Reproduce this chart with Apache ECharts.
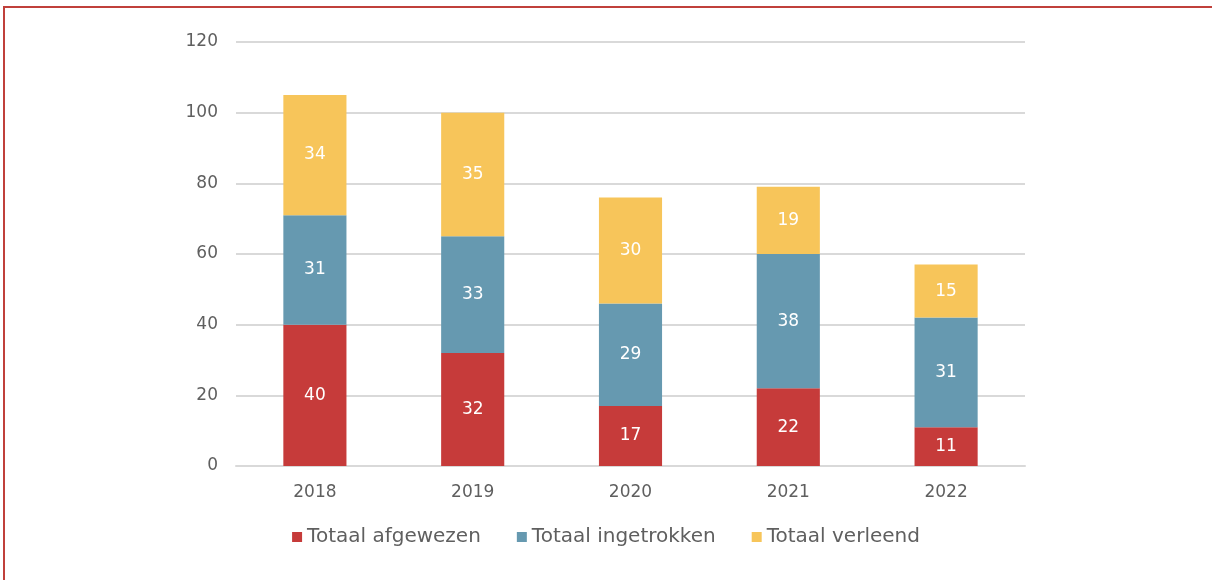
<!DOCTYPE html>
<html>
<head>
<meta charset="utf-8">
<script src="https://cdn.jsdelivr.net/npm/echarts@6/dist/echarts.min.js"></script>
<style>
  html, body { margin: 0; padding: 0; background: #fff; }
  #chart { width: 1212px; height: 580px; }
</style>
</head>
<body>
<div id="chart"></div>
<script>
// data
var years = ['2018', '2019', '2020', '2021', '2022'];
var afgewezen = [40, 32, 17, 22, 11];
var ingetrokken = [31, 33, 29, 38, 31];
var verleend = [34, 35, 30, 19, 15];
var seriesNames = ['Totaal afgewezen', 'Totaal ingetrokken', 'Totaal verleend'];
var yTicks = [0, 20, 40, 60, 80, 100, 120];

var chart = echarts.init(document.getElementById('chart'));
var font = '"DejaVu Sans", sans-serif';

function barSeries(name, data, color) {
  return {
    name: name,
    type: 'bar',
    stack: 'total',
    barWidth: '40%',
    data: data,
    itemStyle: { color: color },
    label: {
      show: true,
      position: 'inside',
      color: '#fff',
      fontSize: 17,
      fontFamily: font
    }
  };
}

var option = {
  animation: false,
  grid: { left: 236, right: 187, top: 42, bottom: 114 },
  // red frame around the figure
  graphic: [{
    type: 'rect',
    shape: { x: 4, y: 7, width: 1220, height: 600 },
    style: { fill: 'none', stroke: '#c0403b', lineWidth: 2 }
  }],
  legend: {
    bottom: 28,
    left: 'center',
    itemWidth: 10,
    itemHeight: 10,
    itemGap: 36,
    icon: 'rect',
    textStyle: { color: '#5f5f5f', fontSize: 20, fontFamily: font },
    data: seriesNames
  },
  xAxis: {
    type: 'category',
    data: years,
    axisLine: { lineStyle: { color: '#d9d9d9', width: 2 } },
    axisTick: { show: false },
    axisLabel: { color: '#5f5f5f', fontSize: 17, fontFamily: font, margin: 18 }
  },
  yAxis: {
    type: 'value',
    min: yTicks[0],
    max: yTicks[yTicks.length - 1],
    interval: 20,
    axisLine: { show: false },
    axisTick: { show: false },
    splitLine: { lineStyle: { color: '#d9d9d9', width: 2 } },
    axisLabel: { color: '#5f5f5f', fontSize: 17, fontFamily: font, margin: 18 }
  },
  series: [
    barSeries(seriesNames[0], afgewezen, '#c63b3a'),
    barSeries(seriesNames[1], ingetrokken, '#6699b0'),
    barSeries(seriesNames[2], verleend, '#f7c55a')
  ]
};

chart.setOption(option);
</script>
</body>
</html>
